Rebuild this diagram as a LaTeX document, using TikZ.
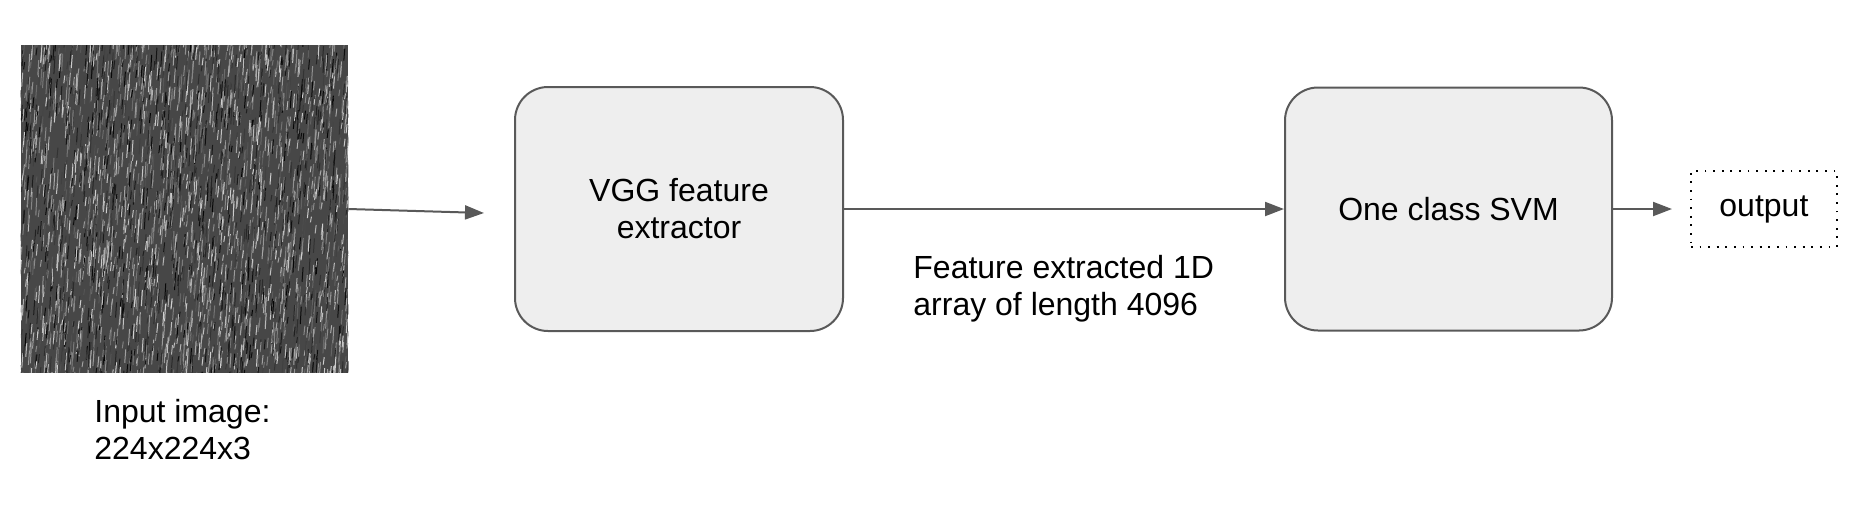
\documentclass[tikz,border=0pt]{standalone}
\usepackage{fontspec}
\setmainfont{Liberation Sans}
\usepackage{tikz}
\usetikzlibrary{positioning}
\usetikzlibrary{arrows.meta}
\definecolor{edgegray}{HTML}{595959}
\definecolor{boxfill}{HTML}{EEEEEE}
\tikzstyle{block} = [rectangle, rounded corners=16.5pt, draw=edgegray, line width=1pt, fill=boxfill, align=center, font=\fontsize{16}{18.5}\selectfont]
\tikzstyle{outbox} = [rectangle, draw=black, line width=0.9pt, dash pattern=on 0.9pt off 3.4pt, minimum width=73pt, minimum height=38pt, font=\fontsize{16}{18.5}\selectfont]
\tikzstyle{lbl} = [inner sep=0pt, align=left, anchor=north west, font=\fontsize{16}{18.5}\selectfont]
\tikzstyle{arrow} = [draw=edgegray, line width=1pt, -{Triangle[length=9.5pt,width=7pt]}, edgegray]

\begin{document}
\begin{tikzpicture}[x=0.5pt, y=-0.5pt]
		\useasboundingbox (0,0) rectangle (1852,526);
		\node[rectangle, inner sep=0pt, minimum size=163.5pt] (img) at (184.5,209) {};
		\begin{scope}
			\clip (img.south west) rectangle (img.north east);
			\fill[black!72] (img.south west) rectangle (img.north east);
			\pgfmathsetseed{7}
			\foreach \k in {1,...,3600}{
				\pgfmathsetmacro{\sx}{15+335*rnd}
				\pgfmathsetmacro{\sy}{46+340*rnd}
				\pgfmathsetmacro{\sl}{5+13*rnd}
				\pgfmathtruncatemacro{\sg}{2+80*rnd}
				\draw[line width=0.5pt, white!\sg!black] (\sx,\sy) -- ++(1,-\sl);
			}
		\end{scope}
		\node[block, minimum width=164pt, minimum height=122pt] (vgg) at (679,209) {VGG feature\\extractor};
		\node[block, minimum width=163.5pt, minimum height=121.5pt, right=220pt of vgg] (svm) {One class SVM};
		\node[outbox, right=38.5pt of svm] (out) {output};
		\coordinate (vggin) at (484,213);
		\node[lbl] (imglbl) at (94,399) {Input image:\\224x224x3};
		\node[lbl] (featlbl) at (913,255) {Feature extracted 1D\\array of length 4096};
		\draw[arrow] (img.east) -- (vggin);
		\draw[arrow] (vgg.east) -- (svm.west);
		\draw[arrow, shorten >=9pt] (svm.east) -- (out.west);
	\end{tikzpicture}
\end{document}
